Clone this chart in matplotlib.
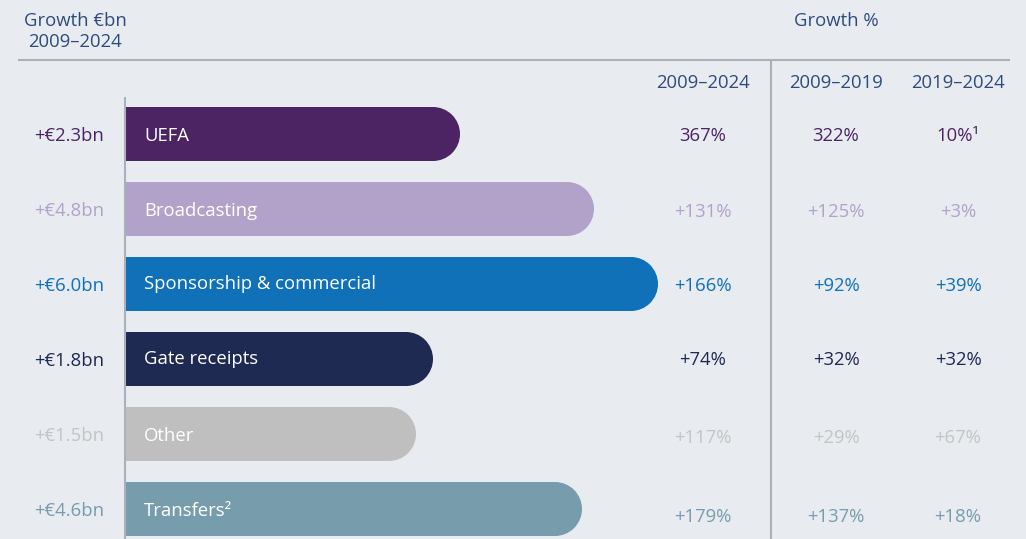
import matplotlib
matplotlib.use("Agg")
import matplotlib.pyplot as plt
from matplotlib.patches import Wedge

plt.rcParams['font.family'] = ['Open Sans', 'DejaVu Sans']

# ---- data ----
categories = ["UEFA", "Broadcasting", "Sponsorship & commercial", "Gate receipts", "Other", "Transfers²"]
growth_bn = ["+€2.3bn", "+€4.8bn", "+€6.0bn", "+€1.8bn", "+€1.5bn", "+€4.6bn"]
bar_extent = [334, 468, 532, 307, 290, 456]          # bar length as drawn (relative units)
pct_2009_2024 = ["367%", "+131%", "+166%", "+74%", "+117%", "+179%"]
pct_2009_2019 = ["322%", "+125%", "+92%", "+32%", "+29%", "+137%"]
pct_2019_2024 = ["10%¹", "+3%", "+39%", "+32%", "+67%", "+18%"]
col_headers = ["2009–2024", "2009–2019", "2019–2024"]
colors = ["#4d2463", "#b2a2c9", "#1070b8", "#1f2a52", "#bfbfbf", "#779cab"]
text_colors = ["#4d2463", "#b2a2c9", "#1070b8", "#1f2a52", "#c4c4c4", "#779cab"]

BG = "#e8ecf0"
HEAD = "#2f4b7c"
RULE = "#a9b1ba"

W, H = 1026, 539
fig = plt.figure(figsize=(W / 100, H / 100), dpi=100, facecolor=BG)
ax = fig.add_axes([0, 0, 1, 1])
ax.set_facecolor(BG)
ax.set_xlim(0, W)
ax.set_ylim(H, 0)
ax.axis("off")

fs = 13.3
dy = 2
x0 = 126
row_y = [134 + 75 * i for i in range(len(categories))]
bar_h = 54
r = bar_h / 2

# headers
ax.text(75, 19 + dy, "Growth €bn", ha="center", va="center", color=HEAD, fontsize=fs)
ax.text(75, 40 + dy, "2009–2024", ha="center", va="center", color=HEAD, fontsize=fs)
ax.text(836, 19 + dy, "Growth %", ha="center", va="center", color=HEAD, fontsize=fs)
col_x = [703, 836, 958]
for cx, h in zip(col_x, col_headers):
    ax.text(cx, 81 + dy, h, ha="center", va="center", color=HEAD, fontsize=fs)

# rules
ax.plot([18, 1010], [59.5, 59.5], color=RULE, lw=1.5, solid_capstyle="butt")
ax.plot([771, 771], [59.5, H], color=RULE, lw=1.5, solid_capstyle="butt")
ax.plot([125, 125], [97, H], color=RULE, lw=1.5, solid_capstyle="butt", zorder=3)

# bars
ax.barh(row_y, [b - r for b in bar_extent], height=bar_h, left=x0, color=colors, edgecolor="none", zorder=2)
for y, b, c in zip(row_y, bar_extent, colors):
    ax.add_patch(Wedge((x0 + b - r, y), r, -90, 90, facecolor=c, edgecolor="none", zorder=2))

for i, (y, cat, g, tc) in enumerate(zip(row_y, categories, growth_bn, text_colors)):
    ty = y - 2 if i in (2, 3) else y
    ax.text(144, ty + dy, cat, ha="left", va="center", color="white", fontsize=fs, zorder=4)
    ax.text(104, y + dy, g, ha="right", va="center", color=tc, fontsize=fs)

offsets = [0, 1, 0, -1, 2, 6]
for i, y in enumerate(row_y):
    yy = y + offsets[i] + dy
    tc = text_colors[i]
    ax.text(col_x[0], yy, pct_2009_2024[i], ha="center", va="center", color=tc, fontsize=fs)
    ax.text(col_x[1], yy, pct_2009_2019[i], ha="center", va="center", color=tc, fontsize=fs)
    ax.text(col_x[2], yy, pct_2019_2024[i], ha="center", va="center", color=tc, fontsize=fs)

fig.savefig("out.png", dpi=100, facecolor=BG)
